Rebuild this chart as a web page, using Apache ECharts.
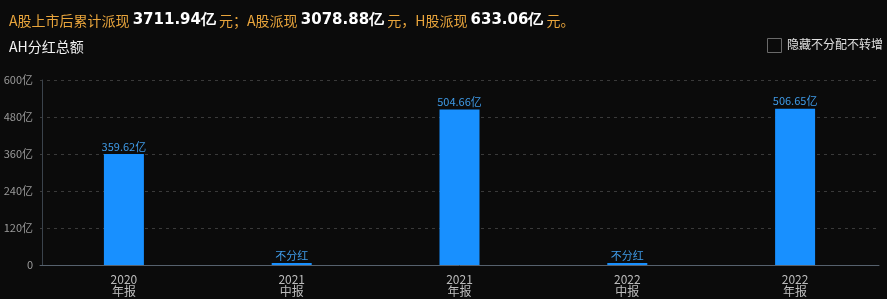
<!DOCTYPE html>
<html><head><meta charset="utf-8">
<script src="https://cdn.jsdelivr.net/npm/echarts@6/dist/echarts.min.js"></script>
<style>html,body{margin:0;padding:0;background:#0b0b0b;}#c{width:887px;height:299px;}</style>
</head><body><div id="c"></div>
<script>
var categories = ['2020\n年报', '2021\n中报', '2021\n年报', '2022\n中报', '2022\n年报'];
var dividends = [359.62, 0, 504.66, 0, 506.65];
var yTicks = [0, 120, 240, 360, 480, 600];
var totals = { all: '3711.94亿', a: '3078.88亿', h: '633.06亿' };

var chart = echarts.init(document.getElementById('c'));
var F = '"Noto Sans CJK SC", "Microsoft YaHei", sans-serif';
chart.setOption({
  backgroundColor: '#0b0b0b',
  animation: false,
  title: [{
    left: 4, top: 8,
    text: '{o|A股上市后累计派现 }{b|' + totals.all + '}{o| 元；A股派现 }{b|' + totals.a + '}{o| 元，H股派现 }{b|' + totals.h + '}{o| 元。}',
    textStyle: {
      fontWeight: 'normal',
      rich: {
        o: { color: '#e9a53c', fontSize: 14, fontWeight: 'normal', fontFamily: F },
        b: { color: '#ffffff', fontSize: 15, fontWeight: 'bold', fontFamily: '"DejaVu Sans", Verdana, sans-serif' }
      }
    }
  }, {
    left: 4, top: 35,
    text: 'AH分红总额',
    textStyle: { color: '#f2f2f2', fontSize: 14, fontWeight: 'normal', fontFamily: F }
  }],
  graphic: [{
    type: 'rect', left: 767, top: 38,
    shape: { width: 14, height: 14 },
    style: { fill: 'transparent', stroke: '#6a6a6a', lineWidth: 1 }
  }, {
    type: 'text', left: 787, top: 38,
    style: { text: '隐藏不分配不转增', fill: '#e0e0e0', font: '12px ' + F }
  }],
  grid: { left: 40, right: 8, top: 80, bottom: 34 },
  xAxis: {
    type: 'category',
    data: categories,
    axisLine: { lineStyle: { color: '#56616d' } },
    axisTick: { show: false },
    axisLabel: { color: '#bdbdbd', fontSize: 12, lineHeight: 12, margin: 8, fontFamily: F }
  },
  yAxis: {
    type: 'value',
    min: yTicks[0], max: yTicks[yTicks.length - 1], interval: 120,
    offset: -2,
    axisLine: { show: true, lineStyle: { color: '#3b434c' } },
    axisTick: { show: false },
    splitLine: { lineStyle: { color: '#3a3a3a', type: [3, 4] } },
    axisLabel: {
      color: '#9a9a9a', fontSize: 11, margin: 9, fontFamily: F,
      formatter: function (v) { return v === 0 ? '0' : v + '亿'; }
    }
  },
  series: [{
    type: 'bar',
    data: dividends,
    barWidth: 40,
    barMinHeight: 2,
    itemStyle: { color: '#1890ff' },
    label: {
      show: true, position: 'top', distance: 2,
      color: '#3f9be8', fontSize: 11, fontFamily: F,
      formatter: function (p) { return p.value === 0 ? '不分红' : p.value.toFixed(2) + '亿'; }
    }
  }]
});
</script></body></html>
